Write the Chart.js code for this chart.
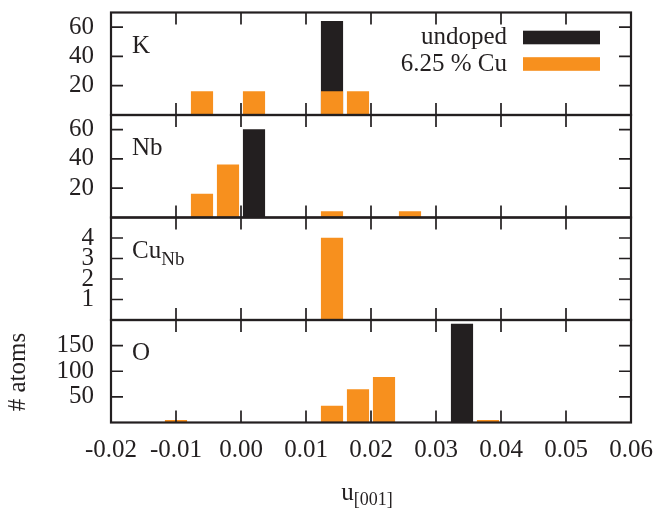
<!DOCTYPE html>
<html><head><meta charset="utf-8">
<script src="https://cdn.jsdelivr.net/npm/chart.js@4.4.1/dist/chart.umd.min.js"></script>
<style>html,body{margin:0;padding:0;background:#fff;}#wrap{width:655px;height:509px;}</style>
</head><body><div id="wrap"><canvas id="c" width="655" height="509"></canvas></div>
<script>
// ---- data ----
const binCenters = [-0.010, -0.006, -0.002, 0.002, 0.006, 0.010, 0.014, 0.018, 0.022, 0.026, 0.030, 0.034, 0.038];
const seriesLabels = ['undoped', '6.25 % Cu'];

const kUndoped  = [0, 0, 0, 0, 0, 0, 64, 0, 0, 0, 0, 0, 0];
const kDoped    = [0, 16, 0, 16, 0, 0, 16, 16, 0, 0, 0, 0, 0];
const nbUndoped = [0, 0, 0, 60, 0, 0, 0, 0, 0, 0, 0, 0, 0];
const nbDoped   = [0, 16, 36, 0, 0, 0, 4, 0, 0, 4, 0, 0, 0];
const cuUndoped = [0, 0, 0, 0, 0, 0, 0, 0, 0, 0, 0, 0, 0];
const cuDoped   = [0, 0, 0, 0, 0, 0, 4, 0, 0, 0, 0, 0, 0];
const oUndoped  = [0, 0, 0, 0, 0, 0, 0, 0, 0, 0, 0, 192, 0];
const oDoped    = [4, 0, 0, 0, 0, 0, 32, 64, 88, 0, 0, 0, 4];

const xTicks = [-0.02, -0.01, 0.00, 0.01, 0.02, 0.03, 0.04, 0.05, 0.06];
const xTickLabels = ['-0.02', '-0.01', '0.00', '0.01', '0.02', '0.03', '0.04', '0.05', '0.06'];
const yTicksK = [20, 40, 60];
const yTicksNb = [20, 40, 60];
const yTicksCu = [1, 2, 3, 4];
const yTicksO = [50, 100, 150];
const yMaxK = 70, yMaxNb = 70, yMaxCu = 5, yMaxO = 200;

const panelLabels = ['K', 'Nb', 'Cu', 'O'];
const panelSubs = ['', '', 'Nb', ''];
const xTitle = 'u', xTitleSub = '[001]';
const yTitle = '# atoms';

// ---- styles ----
const COL_UNDOPED = '#231f20';
const COL_DOPED = '#f7901e';
const INK = '#231f20';
const FONT = "'Liberation Serif', 'Times New Roman', serif";

const panels = [
  {id: 'yK', ticks: yTicksK, max: yMaxK, und: kUndoped, dop: kDoped, label: panelLabels[0], sub: panelSubs[0], w: 4},
  {id: 'yNb', ticks: yTicksNb, max: yMaxNb, und: nbUndoped, dop: nbDoped, label: panelLabels[1], sub: panelSubs[1], w: 3},
  {id: 'yCu', ticks: yTicksCu, max: yMaxCu, und: cuUndoped, dop: cuDoped, label: panelLabels[2], sub: panelSubs[2], w: 2},
  {id: 'yO', ticks: yTicksO, max: yMaxO, und: oUndoped, dop: oDoped, label: panelLabels[3], sub: panelSubs[3], w: 1}
];

const toPts = arr => binCenters.map((x, i) => ({x: x, y: arr[i]}));
const datasets = [];
panels.forEach(p => {
  datasets.push({label: seriesLabels[1], data: toPts(p.dop), yAxisID: p.id, backgroundColor: COL_DOPED, borderWidth: 0, grouped: false, barThickness: 21.5});
  datasets.push({label: seriesLabels[0], data: toPts(p.und), yAxisID: p.id, backgroundColor: COL_UNDOPED, borderWidth: 0, grouped: false, barThickness: 21.5});
});

const scales = {
  x: {
    type: 'linear', min: -0.02, max: 0.06, offset: false,
    grid: {display: false, drawTicks: false}, border: {display: false},
    afterBuildTicks: s => { s.ticks = xTicks.map(v => ({value: v})); },
    afterFit: s => { s.height = 86.5; s.paddingLeft = 0; s.paddingRight = 0; },
    ticks: {autoSkip: false, maxRotation: 0, padding: 13, color: INK, font: {family: FONT, size: 25},
      callback: (v, i) => xTickLabels[i]}
  }
};
panels.forEach(p => {
  scales[p.id] = {
    type: 'linear', position: 'left', stack: 'panels', stackWeight: 1, weight: p.w,
    min: 0, max: p.max, offset: false,
    grid: {display: false, drawTicks: false}, border: {display: false},
    afterBuildTicks: s => { s.ticks = p.ticks.map(v => ({value: v})); },
    afterFit: s => { s.width = 111; s.paddingTop = 0; s.paddingBottom = 0; },
    ticks: {autoSkip: false, padding: 17, color: INK, font: {family: FONT, size: 25}}
  };
});

const framePlugin = {
  id: 'frames',
  afterDatasetsDraw(chart) {
    const ctx = chart.ctx, ca = chart.chartArea, xs = chart.scales.x;
    ctx.save();
    ctx.strokeStyle = INK;
    ctx.fillStyle = INK;
    panels.forEach(p => {
      const ys = chart.scales[p.id];
      const top = ys.top, bottom = ys.bottom;
      ctx.lineWidth = 1.7;
      ctx.beginPath();
      p.ticks.forEach(v => {
        const y = ys.getPixelForValue(v);
        ctx.moveTo(ca.left, y); ctx.lineTo(ca.left + 12, y);
        ctx.moveTo(ca.right, y); ctx.lineTo(ca.right - 12, y);
      });
      xTicks.forEach(v => {
        const x = xs.getPixelForValue(v);
        ctx.moveTo(x, top); ctx.lineTo(x, top + 12);
        ctx.moveTo(x, bottom); ctx.lineTo(x, bottom - 12);
      });
      ctx.stroke();
      ctx.lineWidth = 2.2;
      ctx.strokeRect(ca.left, top, ca.right - ca.left, bottom - top);
      ctx.textAlign = 'left'; ctx.textBaseline = 'alphabetic';
      ctx.font = '25px ' + FONT;
      ctx.fillText(p.label, ca.left + 21, top + 40);
      if (p.sub) {
        const w = ctx.measureText(p.label).width;
        ctx.font = '19px ' + FONT;
        ctx.fillText(p.sub, ca.left + 21 + w, top + 47);
      }
    });
    // legend
    const legend = [{t: seriesLabels[0], c: COL_UNDOPED, y: 37.5}, {t: seriesLabels[1], c: COL_DOPED, y: 64}];
    ctx.font = '25px ' + FONT;
    ctx.textAlign = 'right'; ctx.textBaseline = 'middle';
    legend.forEach(l => {
      ctx.fillStyle = INK;
      ctx.fillText(l.t, 507, l.y);
      ctx.fillStyle = l.c;
      ctx.fillRect(523, l.y - 6.8, 77, 13.6);
    });
    // x title
    ctx.fillStyle = INK;
    ctx.textAlign = 'left'; ctx.textBaseline = 'alphabetic';
    ctx.font = '25px ' + FONT;
    const wu = ctx.measureText(xTitle).width;
    ctx.font = '18px ' + FONT;
    const ws = ctx.measureText(xTitleSub).width;
    const sx = 367 - (wu + ws) / 2;
    ctx.font = '25px ' + FONT;
    ctx.fillText(xTitle, sx, 500);
    ctx.font = '18px ' + FONT;
    ctx.fillText(xTitleSub, sx + wu, 505);
    // y title
    ctx.save();
    ctx.translate(18, 372);
    ctx.rotate(-Math.PI / 2);
    ctx.textAlign = 'center'; ctx.textBaseline = 'middle';
    ctx.font = '25px ' + FONT;
    ctx.fillText(yTitle, 0, 0);
    ctx.restore();
    ctx.restore();
  }
};

new Chart(document.getElementById('c'), {
  type: 'bar',
  data: {datasets: datasets},
  options: {
    responsive: false, animation: false, events: [],
    devicePixelRatio: 1,
    layout: {padding: {top: 12.5, right: 24, left: 0, bottom: 0}},
    plugins: {legend: {display: false}, tooltip: {enabled: false}, title: {display: false}},
    scales: scales
  },
  plugins: [framePlugin]
});
</script>
</body></html>
